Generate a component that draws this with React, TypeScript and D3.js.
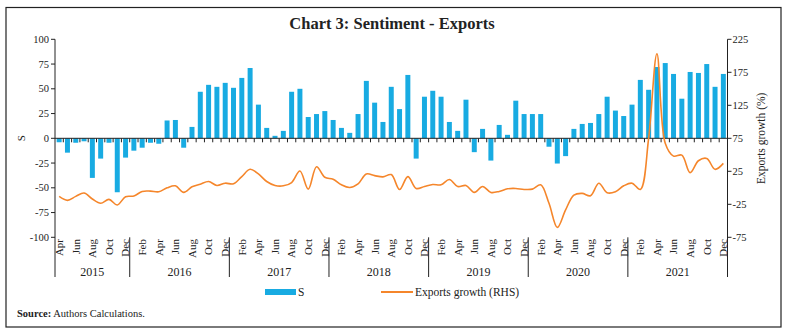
import React from 'react';
import * as d3 from 'd3';

const monthNames = ['Jan','Feb','Mar','Apr','May','Jun','Jul','Aug','Sep','Oct','Nov','Dec'];
const years = [2015, 2016, 2017, 2018, 2019, 2020, 2021];
const startMonth = 3; // Apr 2015

// S (LHS), Apr 2015 - Dec 2021
const sValues = [
  -4, -14.5, -4.5, -3, -40, -20.5, -4.5, -54.5, -19.5,
  -12.5, -9.5, -4.5, -5.5, 18, 18.5, -9.5, 11.5, 47, 54, 52, 56,
  51, 61, 71, 34, 10.5, 2.5, 7.5, 47, 50, 21.5, 24.5, 27.5,
  18.5, 10.5, 5.5, 24.5, 58, 36, 16.5, 52, 29.5, 64, -20.5, 42,
  48, 42, 16.5, 7.5, 39, -14, 9.5, -22.5, 13.5, 3.5, 38, 24.5,
  24.5, 24.5, -8.5, -25.5, -18, 9.5, 14.5, 15.5, 24.5, 42, 28, 22.5,
  34, 59, 49, 72, 76, 65, 40, 67, 66, 75, 52, 65,
];

// Exports growth (RHS), %
const exportGrowth = [
  -13, -19, -13, -8, -17, -23.5, -17.5, -26, -13.5,
  -12.5, -5.5, -5, -6, 0, 3, -7, 1.5, 5.5, 9.5, 3.5, 7,
  6, 17, 28, 21, 9.5, 3.5, 3, 8, 25.5, -2, 32, 16,
  13, 4.5, 0.5, 6, 21, 18.5, 16.5, 20, -2.5, 17, -1, 2,
  5, 4.5, 12.5, 2, 3.5, -7, 2, -7, -5.5, -1.5, -1, -2.5,
  -2, 4.5, -23.5, -60, -33.5, -11, -8.5, -12, 7, -7.5, -6, 3,
  7, -2.5, 75, 203, 67.5, 48, 49.5, 23, 41, 44.5, 28, 37,
];

const leftTicks = [100, 75, 50, 25, 0, -25, -50, -75, -100];
const rightTicks = [225, 175, 125, 75, 25, -25, -75];

const categories: { key: string; year: number; month: string; idx: number }[] = [];
years.forEach((y) => {
  monthNames.forEach((m, mi) => {
    if (y === 2015 && mi < startMonth) return;
    categories.push({ key: `${m} ${y}`, year: y, month: m, idx: categories.length });
  });
});

const FONT = '"Liberation Serif", "Times New Roman", serif';
const BAR = '#18ABE2';
const LINE = '#F5862B';
const AXIS = '#222';

export default function App() {
  const W = 787, H = 333;
  const x0 = 55, x1 = 727.5, yTop = 39.3, yBot = 237.3;
  const x = d3.scaleBand<string>()
    .domain(categories.map((c) => c.key))
    .range([x0, x1])
    .paddingInner(0.4)
    .paddingOuter(0.2);
  const step = x.step();
  const yL = d3.scaleLinear().domain([-100, 100]).range([yBot, yTop]);
  const yR = d3.scaleLinear().domain([-75, 225]).range([yBot, yTop]);
  const cx = (k: string) => (x(k) as number) + x.bandwidth() / 2;

  const line = d3.line<number>()
    .x((_, i) => cx(categories[i].key))
    .y((v) => yR(v))
    .curve(d3.curveCatmullRom.alpha(0.5));

  const axisBottom = 277;
  const yearGroups = years.map((y) => {
    const cs = categories.filter((c) => c.year === y);
    const left = x0 + cs[0].idx * step;
    const right = x0 + (cs[cs.length - 1].idx + 1) * step;
    return { y, left, right };
  });

  return (
    <svg width={W} height={H} style={{ position: 'absolute', left: 0, top: 0, background: '#fff' }} fontFamily={FONT}>
      <rect x={0} y={0} width={W} height={H} fill="#fff" />
      <rect x={6} y={7.5} width={775} height={319.5} fill="none" stroke="#222" strokeWidth={1.2} />
      <text x={392} y={29} textAnchor="middle" fontSize={16.5} fontWeight="bold" fill="#222">Chart 3: Sentiment - Exports</text>

      {/* bars */}
      {categories.map((c, i) => {
        const v = sValues[i];
        const y0 = yL(0), yv = yL(v);
        return <rect key={c.key} x={x(c.key)} y={Math.min(y0, yv)} width={x.bandwidth()} height={Math.abs(yv - y0)} fill={BAR} />;
      })}

      {/* zero axis with ticks */}
      <line x1={x0} x2={x1} y1={yL(0)} y2={yL(0)} stroke={AXIS} strokeWidth={1} />
      {d3.range(1, categories.length).map((i) => (
        <line key={'t' + i} x1={x0 + i * step} x2={x0 + i * step} y1={yL(0)} y2={yL(0) + 4} stroke={AXIS} strokeWidth={1} />
      ))}

      {/* line */}
      <path d={line(exportGrowth) || ''} fill="none" stroke={LINE} strokeWidth={1.6} />

      {/* left axis */}
      <line x1={x0} x2={x0} y1={yTop} y2={axisBottom} stroke={AXIS} strokeWidth={1} />
      {leftTicks.map((t) => (
        <g key={'l' + t}>
          <line x1={x0 - 4} x2={x0} y1={yL(t)} y2={yL(t)} stroke={AXIS} />
          <text x={x0 - 6} y={yL(t)} dy="0.35em" textAnchor="end" fontSize={10.5} fill="#222">{t}</text>
        </g>
      ))}
      <text transform={`translate(25,${yL(0)}) rotate(-90)`} textAnchor="middle" fontSize={11} fill="#222">S</text>

      {/* right axis */}
      <line x1={x1} x2={x1} y1={yTop} y2={axisBottom} stroke={AXIS} strokeWidth={1} />
      {rightTicks.map((t) => (
        <g key={'r' + t}>
          <line x1={x1} x2={x1 + 4} y1={yR(t)} y2={yR(t)} stroke={AXIS} />
          <text x={x1 + 5} y={yR(t)} dy="0.35em" textAnchor="start" fontSize={10.5} fill="#222">{t}</text>
        </g>
      ))}
      <text transform={`translate(765,${yR(75)}) rotate(-90)`} textAnchor="middle" fontSize={11.5} fill="#222">Exports growth (%)</text>

      {/* month labels */}
      {categories.filter((c) => c.idx % 2 === 0).map((c) => (
        <text key={'m' + c.key} transform={`translate(${cx(c.key)},239) rotate(-90)`} dy="0.35em" textAnchor="end" fontSize={11} fill="#222">{c.month}</text>
      ))}

      {/* year separators and labels */}
      {yearGroups.map((g) => (
        <g key={'y' + g.y}>
          <line x1={g.right} x2={g.right} y1={yBot} y2={axisBottom} stroke={AXIS} strokeWidth={1} />
          <text x={(g.left + g.right) / 2} y={275.5} textAnchor="middle" fontSize={12} fill="#222">{g.y}</text>
        </g>
      ))}

      {/* legend */}
      <rect x={265} y={289} width={31} height={6} fill={BAR} />
      <text x={298} y={296} fontSize={11.5} fill="#222">S</text>
      <line x1={381} x2={413} y1={292} y2={292} stroke={LINE} strokeWidth={2} />
      <text x={415} y={296} fontSize={11.5} fill="#222">Exports growth (RHS)</text>

      {/* source */}
      <text x={17} y={316.5} fontSize={10.5} fill="#222">
        <tspan fontWeight="bold">Source:</tspan> Authors Calculations.
      </text>
    </svg>
  );
}
